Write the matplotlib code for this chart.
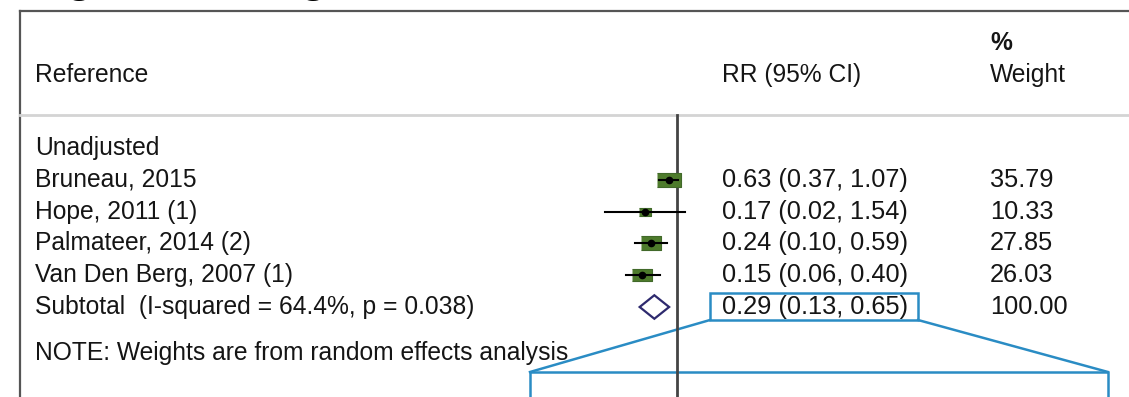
import numpy as np
import matplotlib.pyplot as plt
from matplotlib.patches import Rectangle

plt.rcParams['font.family'] = ['Liberation Sans', 'DejaVu Sans']

# Study data
studies = ['Bruneau, 2015', 'Hope, 2011 (1)', 'Palmateer, 2014 (2)', 'Van Den Berg, 2007 (1)']
rr = [0.63, 0.17, 0.24, 0.15]
lo = [0.37, 0.02, 0.10, 0.06]
hi = [1.07, 1.54, 0.59, 0.40]
weights = [35.79, 10.33, 27.85, 26.03]

# Pooled estimate
sub_label = 'Subtotal  (I-squared = 64.4%, p = 0.038)'
sub_rr, sub_lo, sub_hi = 0.29, 0.13, 0.65

W, H = 1129, 397
fig = plt.figure(figsize=(W / 100, H / 100), dpi=100)

# rows: 0 = "Unadjusted", 1..4 studies, 5 subtotal
row_px, row_step = 148, 31.8
ytop = (0 - row_px) / row_step
ybot = (H - row_px) / row_step

ax = fig.add_axes([0, 0, 1, 1])
ax.set_xlim(0, W)
ax.set_ylim(ybot, ytop)
ax.axis('off')

def py(p):
    return (p - row_px) / row_step

# frame
ax.plot([20, 20], [py(11), ybot], color='#555555', lw=1.6)
ax.plot([20, W], [py(11), py(11)], color='#555555', lw=1.6)
ax.plot([20, W], [py(115), py(115)], color='#d4d4d4', lw=2)

fs = 17.7
fn = 18.3
tc = '#151515'
ax.text(35, py(75), 'Reference', fontsize=fs, va='center', color=tc)
ax.text(722, py(75), 'RR (95% CI)', fontsize=fs, va='center', color=tc)
ax.text(990, py(43), '%', fontsize=fs, va='center', color=tc, fontweight='bold')
ax.text(990, py(75), 'Weight', fontsize=fs, va='center', color=tc)

ax.text(35, 0, 'Unadjusted', fontsize=fs, va='center', color=tc)
for i, s in enumerate(studies):
    r = i + 1
    ax.text(35, r, s, fontsize=fs, va='center', color=tc)
    ax.text(722, r, f'{rr[i]:.2f} ({lo[i]:.2f}, {hi[i]:.2f})', fontsize=fn, va='center', color=tc)
    ax.text(990, r, f'{weights[i]:.2f}', fontsize=fn, va='center', color=tc)
ax.text(35, 5, sub_label, fontsize=fs, va='center', color=tc)
ax.text(722, 5, f'{sub_rr:.2f} ({sub_lo:.2f}, {sub_hi:.2f})', fontsize=fn, va='center', color=tc)
ax.text(990, 5, '100.00', fontsize=fn, va='center', color=tc)
ax.text(35, py(353), 'NOTE: Weights are from random effects analysis', fontsize=fs, va='center', color=tc)

# cut-off heading fragments at the top (only the descenders are visible)
ax.text(79, py(-8), 'g', fontsize=32, fontweight='bold', va='baseline', ha='center')
ax.text(313, py(-8), 'g', fontsize=32, fontweight='bold', va='baseline', ha='center')

# callout
blue = '#2a8cc4'
ax.add_patch(Rectangle((710, py(293)), 208, py(320) - py(293), fill=False, ec=blue, lw=1.8))
ax.plot([710, 530], [py(320), py(372)], color=blue, lw=1.8)
ax.plot([918, 1108], [py(320), py(372)], color=blue, lw=1.8)
ax.plot([530, 530, 1108, 1108], [ybot + 1, py(372), py(372), ybot + 1], color=blue, lw=1.8)

# forest panel on log scale, 1 at x=677 px, 18.3 px per ln unit
x0, x1, xnull, k = 560, 720, 677, 18.3
fa = fig.add_axes([x0 / W, 0, (x1 - x0) / W, 1])
fa.set_xscale('log')
fa.set_xlim(np.exp((x0 - xnull) / k), np.exp((x1 - xnull) / k))
fa.set_ylim(ybot, ytop)
fa.axis('off')
fa.patch.set_alpha(0)

fa.plot([1, 1], [py(115), ybot], color='#444444', lw=2, clip_on=False)
box = [(-1.6, -1), (1.6, -1), (1.6, 1), (-1.6, 1)]
for i in range(len(studies)):
    r = i + 1
    fa.plot(rr[i], r, marker=box, ms=2.85 * np.sqrt(weights[i]), mfc='#4e7b2c',
            mec='#41692a', mew=0.8, ls='none', zorder=2)
    fa.plot([lo[i], hi[i]], [r, r], color='black', lw=1.5, zorder=3)
    fa.plot(rr[i], r, marker='o', ms=4.5, color='black', ls='none', zorder=4)
fa.fill([sub_lo, sub_rr, sub_hi, sub_rr], [5, 5 - 0.37, 5, 5 + 0.37],
        facecolor='white', edgecolor='#2e2a6e', lw=1.6, zorder=3)

fig.savefig('out.png', dpi=100)
